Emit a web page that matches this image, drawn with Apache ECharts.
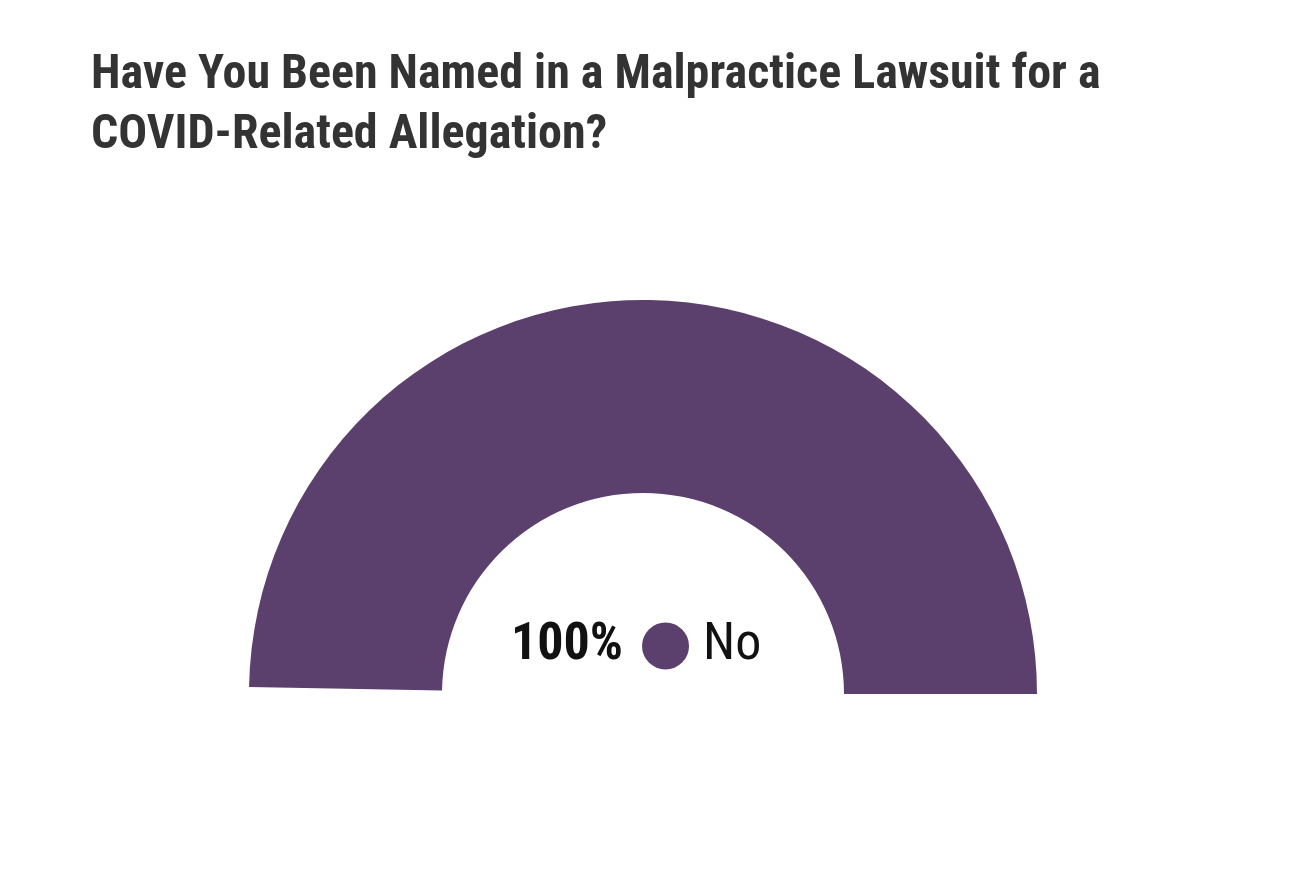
<!DOCTYPE html>
<html><head><meta charset="utf-8">
<script src="https://cdn.jsdelivr.net/npm/echarts@6/dist/echarts.min.js"></script>
<style>html,body{margin:0;padding:0;background:#fff}#c{width:1290px;height:879px}</style>
</head><body><div id="c"></div>
<script>
const titleLines = ['Have You Been Named in a Malpractice Lawsuit for a', 'COVID-Related Allegation?'];
const categories = ['No'];
const values = [100];
const colors = ['#5B3F6D'];
const COND = "'Roboto Condensed','Liberation Sans Narrow','DejaVu Sans Condensed',sans-serif";

const total = values.reduce((a, b) => a + b, 0);
const chart = echarts.init(document.getElementById('c'));
chart.setOption({
  animation: false,
  backgroundColor: '#ffffff',
  title: {
    text: titleLines.join('\n'),
    left: 86, top: 41,
    textStyle: { fontFamily: COND, fontWeight: 'bold', fontSize: 48, lineHeight: 60, color: '#333333' }
  },
  legend: {
    top: 615, left: 501,
    itemWidth: 0, itemHeight: 0, icon: 'rect',
    data: categories,
    formatter: function (name) {
      const i = categories.indexOf(name);
      return '{pct|' + Math.round(values[i] / total * 100) + '%}{dot|}{nm|' + name + '}';
    },
    textStyle: {
      rich: {
        pct: { fontFamily: COND, fontWeight: 'bold', fontSize: 52, color: '#111111', padding: [0, 19, 0, 0] },
        dot: { width: 47, height: 47, borderRadius: 24, backgroundColor: colors[0] },
        nm: { fontFamily: COND, fontSize: 52, color: '#111111', padding: [0, 0, 0, 14] }
      }
    }
  },
  series: [{
    type: 'pie',
    center: [643, 694],
    radius: [201, 394],
    startAngle: 179,
    endAngle: 0,
    silent: true,
    label: { show: false },
    labelLine: { show: false },
    itemStyle: { borderWidth: 0 },
    color: colors,
    data: categories.map((c, i) => ({ name: c, value: values[i] }))
  }]
});
</script></body></html>
